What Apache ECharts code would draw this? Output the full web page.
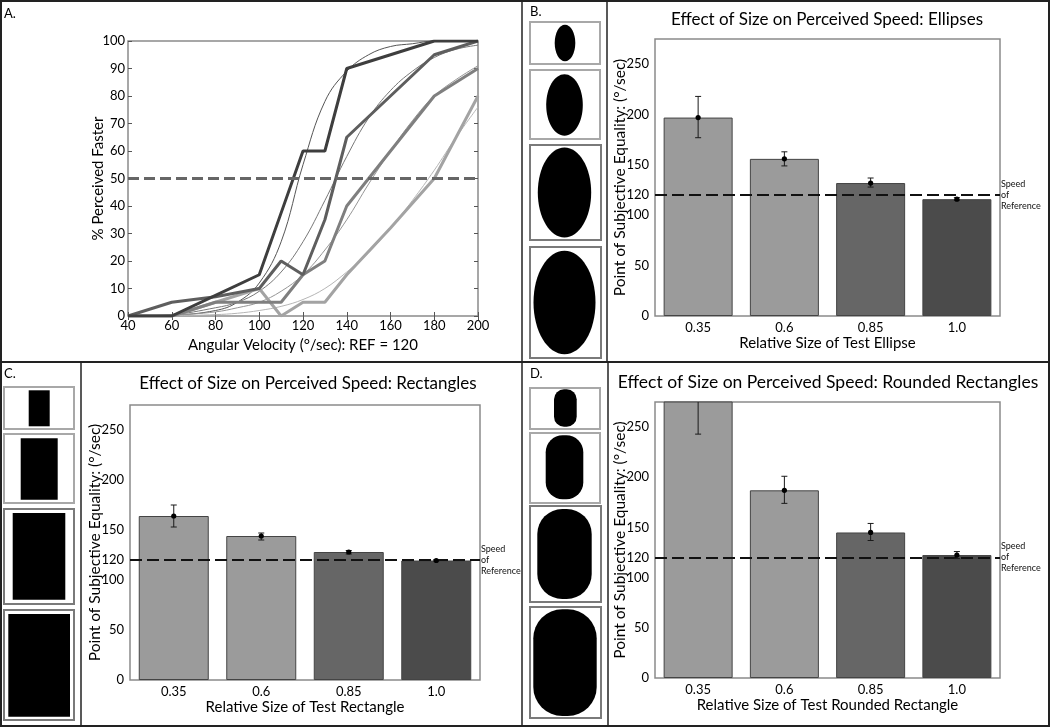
<!DOCTYPE html>
<html><head><meta charset="utf-8">
<script src="https://cdn.jsdelivr.net/npm/echarts@6/dist/echarts.min.js"></script>
<style>html,body{margin:0;padding:0;background:#fff}#c{width:1050px;height:727px}</style>
</head><body><div id="c"></div>
<script>
// ---------- Panel A data ----------
const velocities = [40, 60, 80, 100, 110, 120, 130, 140, 160, 180, 200];
const obs1 = [0, 0, 7.5, 15, 37.5, 60, 60, 90, 95, 100, 100];
const obs2 = [0, 5, 7, 10, 20, 15, 35, 65, 80, 95, 100];
const obs3 = [0, 0, 5, 5, 5, 15, 20, 40, 60, 80, 90];
const obs4 = [0, 0, 5, 10, 0, 5, 5, 15, 32, 50, 80];
const fitVel = [40, 60, 80, 90, 100, 110, 120, 130, 140, 150, 160, 170, 180, 190, 200];
const fit1 = [0, 0.3, 2, 5, 12, 27, 55, 78, 89, 95, 98, 99, 100, 100, 100];
const fit2 = [0, 0.5, 3, 5, 9, 16, 27, 42, 58, 72, 82, 89, 94, 97, 98.5];
const fit3 = [0, 0.3, 1.5, 3, 5, 9, 15, 24, 35, 48, 60, 71, 80, 86, 91];
const fit4 = [0, 0.1, 0.5, 1, 2, 3.5, 6, 10, 16, 23, 32, 42, 53, 65, 76];
const chanceLevel = 50;
const velTicks = [40, 60, 80, 100, 120, 140, 160, 180, 200];

// ---------- Panels B-D data ----------
const sizes = ['0.35', '0.6', '0.85', '1.0'];
const ellipsePSE = [197, 156, 132, 116];
const ellipseLow = [177, 149, 128, 115];
const ellipseHigh = [218, 163, 137, 117.5];
const rectPSE = [164, 144, 128, 119.5];
const rectLow = [153, 140, 126, 119];
const rectHigh = [175, 147, 129.5, 120.3];
const roundPSE = [280, 187, 145, 122.5];
const roundLow = [243, 174, 137, 119];
const roundHigh = [317, 201, 154, 126];
const refSpeed = 120;
const pseTicks = [0, 50, 100, 120, 150, 200, 250];
const pseRightTicks = [50, 100, 150, 200, 250];

// ---------- styling ----------
const FONT = 'Lato';
const barColors = ['#9b9b9b', '#9b9b9b', '#666666', '#4b4b4b'];
const txt = '#000';

const grids = [
  { left: 128, top: 41, width: 350, height: 275 },
  { left: 655, top: 39, width: 345, height: 277 },
  { left: 130, top: 405, width: 350, height: 275 },
  { left: 655, top: 402, width: 345, height: 276 }
].map(g => Object.assign({ show: true, borderColor: '#8a8a8a', borderWidth: 1.5, backgroundColor: 'transparent' }, g));

const xAxes = [], yAxes = [], series = [];

// Panel A axes
xAxes.push({
  gridIndex: 0, type: 'value', min: 40, max: 200, interval: 20, position: 'bottom',
  axisLine: { show: false }, splitLine: { show: false },
  axisTick: { inside: true, length: 4, lineStyle: { color: '#555' } },
  axisLabel: { color: txt, fontFamily: FONT, fontSize: 13, margin: 3, customValues: velTicks },
  name: 'Angular Velocity (°/sec): REF = 120', nameLocation: 'middle', nameGap: 22,
  nameTextStyle: { color: txt, fontFamily: FONT, fontSize: 15 }
});
xAxes.push({
  gridIndex: 0, type: 'value', min: 40, max: 200, interval: 20, position: 'top',
  axisLine: { show: false }, splitLine: { show: false }, axisLabel: { show: false },
  axisTick: { inside: true, length: 4, lineStyle: { color: '#555' } }
});
yAxes.push({
  gridIndex: 0, type: 'value', min: 0, max: 100, interval: 10, position: 'left',
  axisLine: { show: false }, splitLine: { show: false },
  axisTick: { inside: true, length: 4, lineStyle: { color: '#555' } },
  axisLabel: { color: txt, fontFamily: FONT, fontSize: 13, margin: 3 },
  name: '% Perceived Faster', nameLocation: 'middle', nameGap: 22, nameMoveOverlap: false,
  nameTextStyle: { color: txt, fontFamily: FONT, fontSize: 15 }
});
yAxes.push({
  gridIndex: 0, type: 'value', min: 0, max: 100, interval: 10, position: 'right',
  axisLine: { show: false }, splitLine: { show: false }, axisLabel: { show: false },
  axisTick: { inside: true, length: 4, lineStyle: { color: '#555' } }
});

function pair(xs, ys) { return xs.map((x, i) => [x, ys[i]]); }
const fits = [[fit1, '#555555'], [fit2, '#777777'], [fit3, '#959595'], [fit4, '#b5b5b5']];
fits.forEach(([f, c]) => series.push({
  type: 'line', xAxisIndex: 0, yAxisIndex: 0, data: pair(fitVel, f), smooth: 0.4,
  symbol: 'none', lineStyle: { color: c, width: 1 }, silent: true
}));
const obs = [[obs4, '#a3a3a3'], [obs3, '#7f7f7f'], [obs2, '#5e5e5e'], [obs1, '#3e3e3e']];
obs.forEach(([o, c], i) => series.push({
  type: 'line', xAxisIndex: 0, yAxisIndex: 0, data: pair(velocities, o),
  symbol: 'none', lineStyle: { color: c, width: 3 }, z: 3,
  markLine: i === 3 ? {
    silent: true, symbol: 'none', label: { show: false },
    lineStyle: { color: '#666', width: 3, type: [11, 5] },
    data: [{ yAxis: chanceLevel }]
  } : undefined
}));

// Panels B-D
const xTitles = ['Relative Size of Test Ellipse', 'Relative Size of Test Rectangle', 'Relative Size of Test Rounded Rectangle'];
const sets = [[ellipsePSE, ellipseLow, ellipseHigh], [rectPSE, rectLow, rectHigh], [roundPSE, roundLow, roundHigh]];

function errRender(params, api) {
  const x = api.value(0), lo = api.value(1), hi = api.value(2), m = api.value(3);
  const a = api.coord([x, lo]), b = api.coord([x, hi]), c = api.coord([x, m]);
  const w = 3, st = { stroke: '#1a1a1a', lineWidth: 1 };
  return {
    type: 'group', children: [
      { type: 'line', shape: { x1: a[0], y1: a[1], x2: b[0], y2: b[1] }, style: st },
      { type: 'line', shape: { x1: a[0] - w, y1: a[1], x2: a[0] + w, y2: a[1] }, style: st },
      { type: 'line', shape: { x1: b[0] - w, y1: b[1], x2: b[0] + w, y2: b[1] }, style: st },
      { type: 'circle', shape: { cx: c[0], cy: c[1], r: 2.6 }, style: { fill: '#000' } }
    ]
  };
}

sets.forEach(([pse, lo, hi], k) => {
  const g = k + 1;
  const xi = xAxes.length, yi = yAxes.length;
  xAxes.push({
    gridIndex: g, type: 'category', data: sizes, position: 'bottom',
    axisLine: { show: false }, axisTick: { show: false },
    axisLabel: { color: txt, fontFamily: FONT, fontSize: 13, margin: 5 },
    name: xTitles[k], nameLocation: 'middle', nameGap: 20,
    nameTextStyle: { color: txt, fontFamily: FONT, fontSize: 15 }
  });
  yAxes.push({
    gridIndex: g, type: 'value', min: 0, max: 275, interval: 25, position: 'left',
    axisLine: { show: false }, splitLine: { show: false },
    axisTick: { inside: true, length: 4, customValues: pseTicks, lineStyle: { color: '#555' } },
    axisLabel: { color: txt, fontFamily: FONT, fontSize: 13, margin: 6, customValues: pseTicks },
    name: 'Point of Subjective Equality: (°/sec)', nameLocation: 'middle', nameGap: 27, nameMoveOverlap: false,
    nameTextStyle: { color: txt, fontFamily: FONT, fontSize: 15.5 }
  });
  yAxes.push({
    gridIndex: g, type: 'value', min: 0, max: 275, interval: 25, position: 'right',
    axisLine: { show: false }, splitLine: { show: false }, axisLabel: { show: false },
    axisTick: { inside: true, length: 5, customValues: pseRightTicks, lineStyle: { color: '#555' } }
  });
  series.push({
    type: 'bar', xAxisIndex: xi, yAxisIndex: yi, barWidth: '80%', clip: true,
    data: pse.map((v, i) => ({ value: v, itemStyle: { color: barColors[i] } })),
    itemStyle: { borderColor: '#444', borderWidth: 1 },
    markLine: {
      silent: true, symbol: 'none',
      lineStyle: { color: '#111', width: 2, type: [12, 5] },
      label: { show: true, position: 'end', formatter: 'Speed\nof\nReference', fontFamily: FONT, fontSize: 9, lineHeight: 11, color: '#111', distance: 1 },
      data: [{ yAxis: refSpeed }]
    }
  });
  series.push({
    type: 'custom', xAxisIndex: xi, yAxisIndex: yi, clip: true, z: 5,
    renderItem: errRender,
    data: pse.map((v, i) => [i, lo[i], hi[i], v])
  });
});

// ---------- graphics: frames, labels, icons, titles ----------
const G = [];
function line(x1, y1, x2, y2, w, c) { G.push({ type: 'line', shape: { x1, y1, x2, y2 }, style: { stroke: c || '#222', lineWidth: w || 1.5 }, silent: true }); }
G.push({ type: 'rect', shape: { x: 1, y: 1, width: 1048, height: 725 }, style: { fill: 'none', stroke: '#222', lineWidth: 2 }, silent: true });
line(0, 362, 1050, 362, 2);
line(522, 0, 522, 727, 1.5);
line(607, 0, 607, 362, 1.5);
line(608, 362, 608, 727, 1.5);
line(81, 362, 81, 727, 1.5);

function text(t, x, y, size, align) {
  G.push({ type: 'text', x, y, silent: true, style: { text: t, fontFamily: FONT, fontSize: size, fill: txt, textAlign: align || 'left', textVerticalAlign: 'middle' } });
}
text('A.', 4, 14, 13);
text('B.', 530, 12, 13);
text('C.', 4, 374, 13);
text('D.', 530, 374, 13);
text('Effect of Size on Perceived Speed: Ellipses', 827, 20, 17, 'center');
text('Effect of Size on Perceived Speed: Rectangles', 308, 384, 17, 'center');
text('Effect of Size on Perceived Speed: Rounded Rectangles', 828, 382, 17.5, 'center');

function box(x, y, w, h, c) { G.push({ type: 'rect', shape: { x, y, width: w, height: h }, style: { fill: '#fff', stroke: c, lineWidth: 2 }, silent: true }); }
const light = '#a8a8a8', mid = '#7a7a7a';
// B ellipses
box(530, 22, 70, 42, light); G.push({ type: 'ellipse', shape: { cx: 565, cy: 43, rx: 10.3, ry: 18.3 }, style: { fill: '#000' }, silent: true });
box(530, 70, 70, 69, light); G.push({ type: 'ellipse', shape: { cx: 564.5, cy: 105, rx: 18.3, ry: 30.7 }, style: { fill: '#000' }, silent: true });
box(530, 145, 71, 95, mid); G.push({ type: 'ellipse', shape: { cx: 564.5, cy: 192.5, rx: 26.7, ry: 45 }, style: { fill: '#000' }, silent: true });
box(530, 247, 71, 111, mid); G.push({ type: 'ellipse', shape: { cx: 564.5, cy: 302.5, rx: 31, ry: 51.7 }, style: { fill: '#000' }, silent: true });
// C rectangles
function shape(x, y, w, h, r) { G.push({ type: 'rect', shape: { x, y, width: w, height: h, r: r || 0 }, style: { fill: '#000' }, silent: true }); }
box(4, 387, 70, 42, light); shape(28.7, 390.3, 21, 36);
box(4, 434, 70, 69, light); shape(20.7, 438.3, 37, 61.4);
box(4, 509, 70, 95, mid); shape(12.7, 513, 52.6, 86.7);
box(4, 610, 70, 110, mid); shape(8.3, 614, 61.7, 102.7);
// D rounded rectangles
box(530, 388, 70, 41, light); shape(554, 389.3, 22.7, 37.4, 10);
box(530, 433, 70, 70, light); shape(545.7, 435.3, 37.6, 64, 17);
box(530, 506, 71, 96, mid); shape(537.3, 509, 54.4, 90, 25);
box(530, 607, 71, 111, mid); shape(533.3, 609.3, 63.4, 106.7, 29);

const chart = echarts.init(document.getElementById('c'), null, { renderer: 'canvas' });
chart.setOption({
  animation: false,
  backgroundColor: '#fff',
  textStyle: { fontFamily: FONT },
  grid: grids, xAxis: xAxes, yAxis: yAxes, series: series, graphic: G
});
</script>
</body></html>
